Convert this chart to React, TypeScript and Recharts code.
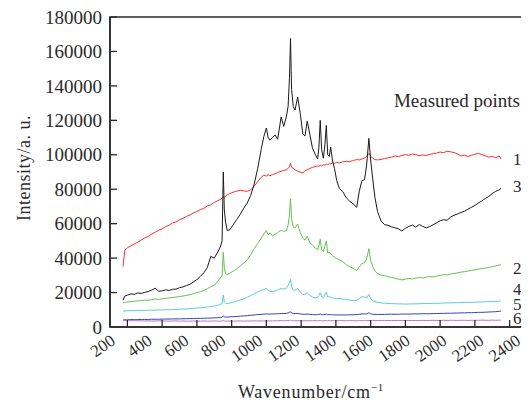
import React from 'react';
import { LineChart, Line, XAxis, YAxis, ReferenceArea, Customized } from 'recharts';

// Raman shift (cm^-1) sample positions
const wavenumbers = [
  175, 185, 200, 220, 240, 260, 280, 300, 320, 340,
  360, 380, 400, 420, 440, 460, 480, 500, 520, 540,
  560, 580, 600, 620, 640, 660, 680, 700, 720, 735,
  745, 752, 758, 765, 775, 790, 810, 830, 850, 870,
  890, 910, 930, 950, 970, 985, 1000, 1010, 1020, 1035,
  1050, 1065, 1085, 1100, 1115, 1125, 1133, 1139, 1145, 1155,
  1165, 1180, 1195, 1210, 1222, 1235, 1250, 1265, 1280, 1295,
  1302, 1310, 1318, 1328, 1337, 1345, 1353, 1362, 1370, 1380,
  1392, 1405, 1420, 1440, 1460, 1480, 1500, 1520, 1535, 1550,
  1565, 1577, 1590, 1600, 1612, 1625, 1640, 1660, 1680, 1700,
  1720, 1740, 1760, 1780, 1800, 1820, 1840, 1860, 1880, 1900,
  1920, 1940, 1960, 1980, 2000, 2020, 2040, 2060, 2080, 2100,
  2120, 2140, 2160, 2180, 2200, 2220, 2240, 2260, 2280, 2300,
  2320, 2340, 2350,
];

// Measured point 1 (red)
const point1 = [
  35000, 44500, 46000, 47000, 48200, 49300, 50500, 51700, 52600, 53900,
  55000, 56200, 57000, 58300, 59100, 60400, 61000, 62300, 63100, 64200,
  65000, 66200, 67000, 68100, 68900, 70200, 71000, 72300, 73400, 74000,
  74800, 75600, 75200, 76100, 76800, 77500, 78300, 78900, 79400, 79000,
  78800, 79600, 81800, 84300, 86900, 88200, 87600, 88400, 87800, 88500,
  89000, 89700, 90400, 90900, 91300, 92000, 93000, 95000, 92800, 92100,
  91300, 90500, 89900, 89500, 90600, 91400, 92000, 92700, 93100, 93500,
  93300, 93900, 93600, 94200, 94000, 94500, 94200, 94900, 94600, 95200,
  95000, 95600, 95300, 95900, 96200, 96000, 96700, 97200, 97000, 97600,
  98200, 99000, 100800, 99200, 98000, 97200, 97000, 97300, 97800, 98200,
  98600, 99300, 98900, 99600, 100100, 99700, 100400, 100000, 99500, 99900,
  99600, 100200, 100700, 101000, 101600, 101200, 102100, 101700, 101300, 100500,
  99300, 99800, 99000, 99700, 100300, 100800, 100100, 99400, 98600, 99100,
  98300, 99400, 97600,
];

// Measured point 2 (green)
const point2 = [
  14000, 14300, 14500, 14700, 15000, 15200, 15300, 15600, 15500, 15900,
  16200, 16000, 16400, 16600, 16900, 17100, 17400, 17700, 18000, 18300,
  18800, 19300, 20000, 20500, 21300, 22200, 23500, 24200, 26500, 28500,
  30000, 43500, 34000, 31000, 30500, 31200, 32500, 33800, 35500, 37200,
  39000, 42000, 45500, 48500, 51500, 54000, 56000, 53500, 54500, 53000,
  53800, 54800, 56200, 55500, 56000, 59000, 65000, 74500, 63000, 58000,
  57500, 59800, 55000, 51500, 50500, 52800, 49000, 47500, 46000, 44800,
  47000, 51000, 45000, 43800, 47000, 50000, 43000, 43500, 42500, 41500,
  40500, 39700, 39000, 38000, 36200, 35000, 34000, 32800, 35000, 36800,
  37300, 39500, 45500, 38500, 35000, 32500, 31000, 30200, 29800, 29200,
  28800, 28300, 27800, 27300, 27800, 28200, 27900, 28400, 28700, 28500,
  28900, 29300, 29000, 29600, 30000, 30400, 30200, 30700, 31100, 31400,
  31900, 32100, 32500, 32900, 33200, 33600, 33900, 34200, 34600, 35000,
  35500, 35900, 36200,
];

// Measured point 3 (black)
const point3 = [
  15500, 18000, 18500, 19200, 19000, 19800, 19500, 20100, 20600, 21400,
  22500, 20800, 21000, 21600, 21200, 21900, 22000, 22800, 23300, 24000,
  24800, 26200, 27500, 29400, 31500, 34500, 41000, 40000, 43500, 46500,
  50000, 90000, 68000, 61000, 56000, 56500, 59500, 62500, 65500, 69000,
  72000, 76500, 83000, 92000, 103000, 110500, 115500, 110000, 108500, 110000,
  111500, 109000, 122000, 116500, 122000, 128000, 145000, 167500, 138000, 128000,
  126000, 133500, 124000, 112000, 111000, 119500, 112000, 104000, 100500, 97500,
  104000, 120000, 103000, 98000, 106000, 117000, 100000, 99000, 104500, 97000,
  92000, 85000, 80500, 78500, 75000, 73000, 71500, 69500, 79000, 85000,
  85500, 94000, 109500, 97000, 86000, 75000, 67000, 61500, 59500, 59000,
  58200, 57600, 57000, 55800, 57300, 58400, 59200, 58000, 59500, 58400,
  57600, 58300, 59400, 60500, 61700, 62300, 62000, 63800, 64900, 65600,
  66500, 67200, 68400, 69500, 70600, 72000, 73200, 74600, 75800, 77500,
  78800, 79600, 80500,
];

// Measured point 4 (cyan)
const point4 = [
  9200, 9300, 9400, 9500, 9500, 9600, 9600, 9700, 9700, 9800,
  9800, 9900, 9900, 10000, 10000, 10100, 10200, 10300, 10400, 10500,
  10600, 10800, 11000, 11200, 11400, 11600, 11900, 12200, 12600, 13200,
  13600, 18600, 14500, 13800, 13600, 13900, 14400, 15000, 15700, 16400,
  17200, 18200, 19300, 20300, 21200, 21800, 22400, 21200, 20800, 20500,
  20900, 21500, 22300, 22000, 22600, 24000, 26000, 27700, 23500, 21500,
  21300, 22500, 20400, 18800, 19000, 19900, 18400, 17400, 16900, 17300,
  18200, 19900, 17600, 17200, 18800, 20300, 17400, 17600, 17300, 16900,
  16700, 16500, 16600, 16200, 16000, 15600, 15400, 15300, 16500, 17600,
  17400, 16900, 19000, 16500, 15300, 14700, 14300, 14000, 13800, 13700,
  13600, 13500, 13400, 13400, 13300, 13400, 13400, 13500, 13500, 13600,
  13600, 13700, 13700, 13800, 13800, 13900, 14000, 14000, 14100, 14100,
  14200, 14200, 14300, 14300, 14400, 14500, 14500, 14600, 14700, 14800,
  14900, 15000, 15100,
];

// Measured point 5 (blue)
const point5 = [
  4100, 4200, 4200, 4300, 4300, 4300, 4400, 4400, 4400, 4500,
  4500, 4500, 4600, 4600, 4600, 4700, 4700, 4700, 4800, 4800,
  4900, 4900, 5000, 5000, 5100, 5100, 5200, 5300, 5400, 5500,
  5700, 6500, 5800, 5700, 5800, 5900, 6000, 6100, 6300, 6400,
  6600, 6800, 7000, 7200, 7300, 7500, 7600, 7500, 7500, 7600,
  7600, 7700, 7800, 7800, 7900, 8200, 8600, 8900, 8100, 7900,
  7800, 7900, 7600, 7400, 7400, 7500, 7300, 7200, 7100, 7200,
  7300, 7500, 7200, 7100, 7300, 7500, 7100, 7200, 7100, 7100,
  7100, 7000, 7000, 7000, 7000, 7100, 7100, 7200, 7400, 7600,
  7600, 7600, 8300, 7600, 7400, 7300, 7300, 7300, 7300, 7400,
  7400, 7400, 7400, 7500, 7500, 7500, 7600, 7600, 7600, 7700,
  7700, 7700, 7800, 7800, 7900, 7900, 8000, 8000, 8100, 8100,
  8200, 8200, 8300, 8300, 8400, 8500, 8500, 8600, 8700, 8800,
  8900, 9100, 9300,
];

// Measured point 6 (purple)
const point6 = [
  3800, 3700, 3700, 3600, 3700, 3600, 3600, 3500, 3600, 3500,
  3500, 3600, 3500, 3500, 3400, 3500, 3500, 3400, 3500, 3400,
  3400, 3500, 3400, 3400, 3500, 3400, 3400, 3500, 3400, 3400,
  3500, 3700, 3500, 3400, 3400, 3500, 3400, 3500, 3500, 3400,
  3500, 3500, 3600, 3500, 3600, 3500, 3600, 3600, 3500, 3600,
  3600, 3600, 3700, 3600, 3700, 3700, 3800, 3900, 3700, 3600,
  3600, 3700, 3600, 3600, 3600, 3700, 3600, 3600, 3700, 3600,
  3700, 3700, 3600, 3600, 3700, 3700, 3600, 3700, 3600, 3700,
  3700, 3600, 3700, 3700, 3600, 3700, 3700, 3600, 3700, 3700,
  3700, 3700, 3800, 3700, 3700, 3700, 3800, 3700, 3700, 3800,
  3700, 3800, 3800, 3700, 3800, 3800, 3800, 3700, 3800, 3800,
  3800, 3800, 3900, 3800, 3800, 3900, 3800, 3900, 3900, 3800,
  3900, 3900, 3800, 3900, 3900, 3900, 4000, 3900, 3900, 4000,
  3900, 4000, 4000,
];

const xTicks = [200, 400, 600, 800, 1000, 1200, 1400, 1600, 1800, 2000, 2200, 2400];
const yTicks = [0, 20000, 40000, 60000, 80000, 100000, 120000, 140000, 160000, 180000];
const xDomain = [100, 2500];
const yDomain = [0, 180000];

const legendTitle = 'Measured points';
const seriesLabels = ['1', '3', '2', '4', '5', '6'];
const xTitle = 'Wavenumber/cm';
const xTitleSup = '\u22121';
const yTitle = 'Intensity/a. u.';

const data = wavenumbers.map((w, i) => ({
  w,
  p1: point1[i],
  p2: point2[i],
  p3: point3[i],
  p4: point4[i],
  p5: point5[i],
  p6: point6[i],
}));

const FONT = "'Liberation Serif', 'DejaVu Serif', 'Times New Roman', serif";
const INK = '#2a2a2a';
const txt = (size: number, extra: any = {}) => ({ fontFamily: FONT, fontSize: size, fill: INK, ...extra });

function XTick(props: any) {
  const { x, y, payload } = props;
  const idx = xTicks.indexOf(payload.value);
  const dx = -11 + 2.1 * idx;
  return (
    <g>
      <line x1={x} y1={y} x2={x} y2={y - 7} stroke={INK} strokeWidth={1.3} />
      <text
        transform={`translate(${x + dx},${y + 16}) rotate(-35)`}
        textAnchor="end"
        style={txt(17)}
      >
        {payload.value}
      </text>
    </g>
  );
}

function YTick(props: any) {
  const { x, y, payload } = props;
  return (
    <g>
      {payload.value !== 0 && (
        <line x1={x} y1={y} x2={x + 7} y2={y} stroke={INK} strokeWidth={1.3} />
      )}
      <text x={x - 8} y={y} dy="0.35em" textAnchor="end" style={txt(19)}>
        {payload.value}
      </text>
    </g>
  );
}

const labelYs = [157, 184, 266, 287, 302, 316];

function Annotations() {
  return (
    <g>
      <text x={512} y={99} textAnchor="end" style={txt(19)}>
        {legendTitle}
      </text>
      {seriesLabels.map((s, i) => (
        <text key={s} x={505} y={labelYs[i]} style={txt(17)}>
          {s}
        </text>
      ))}
      <text x={303} y={390} textAnchor="middle" style={txt(18, { letterSpacing: 0.8 })}>
        {xTitle}
        <tspan dy={-7} style={{ fontSize: 11 }}>
          {xTitleSup}
        </tspan>
      </text>
      <text transform="translate(22,160) rotate(-90)" textAnchor="middle" style={txt(18, { letterSpacing: 0.5 })}>
        {yTitle}
      </text>
    </g>
  );
}

const series = [
  { key: 'p1', color: '#ff2b2b' },
  { key: 'p3', color: '#1a1a1a' },
  { key: 'p2', color: '#63c14f' },
  { key: 'p4', color: '#5ccbd9' },
  { key: 'p5', color: '#3344bb' },
  { key: 'p6', color: '#c36fc8' },
];

export default function App() {
  return (
    <div style={{ width: 521, height: 394 }}>
      <LineChart
        width={521}
        height={394}
        data={data}
        margin={{ top: 9, right: 2, left: 0, bottom: 0 }}
      >
        <XAxis
          dataKey="w"
          type="number"
          domain={xDomain}
          ticks={xTicks}
          interval={0}
          allowDataOverflow
          height={75}
          tickSize={0}
          tickMargin={0}
          tickLine={false}
          axisLine={{ stroke: INK, strokeWidth: 1.5 }}
          tick={<XTick />}
        />
        <YAxis
          type="number"
          domain={yDomain}
          ticks={yTicks}
          interval={0}
          allowDataOverflow
          width={102}
          tickSize={0}
          tickMargin={0}
          tickLine={false}
          axisLine={{ stroke: INK, strokeWidth: 1.5 }}
          tick={<YTick />}
        />
        <ReferenceArea
          x1={xDomain[0]}
          x2={xDomain[1]}
          y1={yDomain[0]}
          y2={yDomain[1]}
          fill="none"
          fillOpacity={0}
          stroke={INK}
          strokeWidth={1.5}
        />
        {series.map((s) => (
          <Line
            key={s.key}
            type="linear"
            dataKey={s.key}
            stroke={s.color}
            strokeWidth={1}
            dot={false}
            activeDot={false}
            isAnimationActive={false}
          />
        ))}
        <Customized component={<Annotations />} />
      </LineChart>
    </div>
  );
}
